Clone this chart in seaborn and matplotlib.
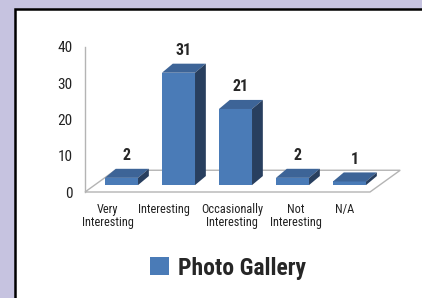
import matplotlib
matplotlib.use('Agg')
import matplotlib.pyplot as plt
import matplotlib.transforms as mtransforms
from matplotlib import font_manager
import seaborn as sns
from matplotlib.patches import Polygon, Rectangle, Patch

# Data
categories = ['Very\nInteresting', 'Interesting', 'Occasionally\nInteresting', 'Not\nInteresting', 'N/A']
values = [2, 31, 21, 2, 1]
series_name = 'Photo Gallery'
yticks = [0, 10, 20, 30, 40]

front = '#4a7bb7'
top = '#3d6497'
side = '#283f5f'
floor_edge = '#b4b4b4'

sns.set_style('white')

# prefer a condensed face if one is installed
installed = {f.name for f in font_manager.fontManager.ttflist}
narrow = [n for n in ['Liberation Sans Narrow', 'Roboto Condensed', 'Open Sans Condensed']
          if n in installed] + ['Liberation Sans', 'DejaVu Sans']
plt.rcParams['font.family'] = narrow

W, H = 422, 298
fig = plt.figure(figsize=(W / 100, H / 100), dpi=100)
fig.patch.set_facecolor('#c6c3e0')

# white panel with dark border on left and top
fig.patches.append(Rectangle((15 / W, -0.05), 1.1, (H - 9) / H + 0.05, transform=fig.transFigure,
                             facecolor='white', edgecolor='black', linewidth=1.8, zorder=-5))

ax = fig.add_axes([85 / W, (H - 192) / H, (370 - 85) / W, (192 - 47) / H])
ax.set_facecolor('none')
ax.set_zorder(2)

sns.barplot(x=categories, y=values, color=front, saturation=1, width=0.58, ax=ax, zorder=3)

ax.set_xlim(-0.5, 4.5)
ax.set_ylim(0, 40)

# 3D look: shift bars back from the floor front edge and add top / side faces
xoff, yoff = 0.14, 1.9
dx, dy = 0.19, 2.5

# floor
fdx, fdy = 0.53, 6.0
x0, x1 = ax.get_xlim()
ax.add_patch(Polygon([(x0, 0), (x1, 0), (x1 + fdx, fdy), (x0 + fdx, fdy)], closed=True,
                     facecolor='white', edgecolor=floor_edge, linewidth=1.0, zorder=1, clip_on=False))

for p, v in zip(ax.patches, values):
    p.set_x(p.get_x() + xoff)
    p.set_y(yoff)
    p.set_edgecolor('none')
    px, pw = p.get_x(), p.get_width()
    ytop = yoff + p.get_height()
    ax.add_patch(Polygon([(px, ytop), (px + pw, ytop), (px + pw + dx, ytop + dy), (px + dx, ytop + dy)],
                         closed=True, facecolor=top, edgecolor='none', zorder=3, clip_on=False))
    ax.add_patch(Polygon([(px + pw, yoff), (px + pw + dx, yoff + dy), (px + pw + dx, ytop + dy), (px + pw, ytop)],
                         closed=True, facecolor=side, edgecolor='none', zorder=3, clip_on=False))
    ax.text(px + (pw + dx) / 2, ytop + dy + 1.6, str(v), ha='center', va='bottom',
            fontsize=11.5, fontweight='bold', family=narrow, clip_on=False)

ax.set_yticks(yticks)
ax.tick_params(axis='y', length=0, pad=9, labelsize=11, colors='#222222')
ax.tick_params(axis='x', length=0, pad=8, labelsize=8.8, colors='#222222')

# Excel nudges the wrapped category labels a little; mimic that (points)
label_nudge = [-4, -4.5, 3.5, 8, 2]
for lbl, n in zip(ax.get_xticklabels(), label_nudge):
    lbl.set_linespacing(0.95)
    lbl.set_transform(lbl.get_transform() + mtransforms.ScaledTranslation(n / 72, 0, fig.dpi_scale_trans))

sns.despine(ax=ax, top=True, right=True, bottom=True)
ax.spines['left'].set_color(floor_edge)
ax.spines['left'].set_linewidth(1.0)
ax.set_xlabel('')
ax.set_ylabel('')

fig.legend(handles=[Patch(facecolor=front, edgecolor='none', label=series_name)],
           loc='center', bbox_to_anchor=(228 / W, 1 - 268 / H), frameon=False,
           prop={'family': narrow, 'weight': 'bold', 'size': 17},
           handlelength=0.8, handleheight=0.8, handletextpad=0.35)

fig.savefig('out.png', dpi=100)
